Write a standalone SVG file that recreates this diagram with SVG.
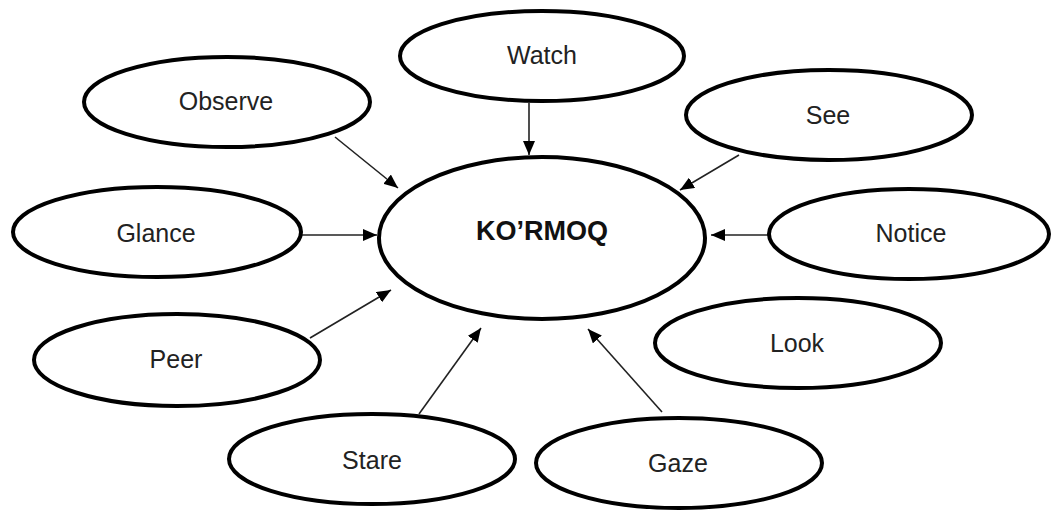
<svg xmlns="http://www.w3.org/2000/svg" width="1052" height="511" viewBox="0 0 1052 511">
<style>
.node ellipse{fill:#fff;stroke:#000;stroke-width:4}
.node text{font-family:"Liberation Sans",Arial,sans-serif;font-size:25px;fill:#222;text-anchor:middle;dominant-baseline:central}
.center text{font-weight:bold;font-size:27px;fill:#111}
.conn line{stroke:#222;stroke-width:1.6;marker-end:url(#ah)}
</style>
<defs>
<marker id="ah" markerUnits="userSpaceOnUse" markerWidth="14" markerHeight="12" refX="14" refY="6" orient="auto">
<path d="M0,0 L14,6 L0,12 z" fill="#000"/>
</marker>
</defs>
<rect width="1052" height="511" fill="#fff"/>
<g id="connectors" class="conn">
<line x1="529" y1="103" x2="529" y2="155"/>
<line x1="335" y1="137" x2="398" y2="188"/>
<line x1="739" y1="155" x2="680" y2="190"/>
<line x1="290" y1="235" x2="377" y2="235"/>
<line x1="768" y1="235" x2="711" y2="235"/>
<line x1="310" y1="338" x2="391" y2="290"/>
<line x1="419" y1="414" x2="481" y2="328"/>
<line x1="662" y1="412" x2="588" y2="329"/>
</g>
<g id="watch" class="node"><ellipse cx="542" cy="56" rx="142" ry="45"/><text x="542" y="55">Watch</text></g>
<g id="observe" class="node"><ellipse cx="227" cy="102" rx="143" ry="45"/><text x="226" y="101">Observe</text></g>
<g id="see" class="node"><ellipse cx="829" cy="115" rx="143" ry="45"/><text x="828" y="115">See</text></g>
<g id="kormoq" class="node center"><ellipse cx="542" cy="238" rx="163" ry="81"/><text x="542" y="231">KO’RMOQ</text></g>
<g id="glance" class="node"><ellipse cx="157" cy="232" rx="144" ry="45"/><text x="156" y="233">Glance</text></g>
<g id="notice" class="node"><ellipse cx="909" cy="234" rx="140" ry="45"/><text x="911" y="233">Notice</text></g>
<g id="peer" class="node"><ellipse cx="177" cy="360" rx="143" ry="46"/><text x="176" y="359">Peer</text></g>
<g id="look" class="node"><ellipse cx="798" cy="343" rx="143" ry="45"/><text x="797" y="343">Look</text></g>
<g id="stare" class="node"><ellipse cx="372" cy="459" rx="143" ry="45"/><text x="372" y="460">Stare</text></g>
<g id="gaze" class="node"><ellipse cx="679" cy="463" rx="143" ry="45"/><text x="678" y="463">Gaze</text></g>
</svg>
